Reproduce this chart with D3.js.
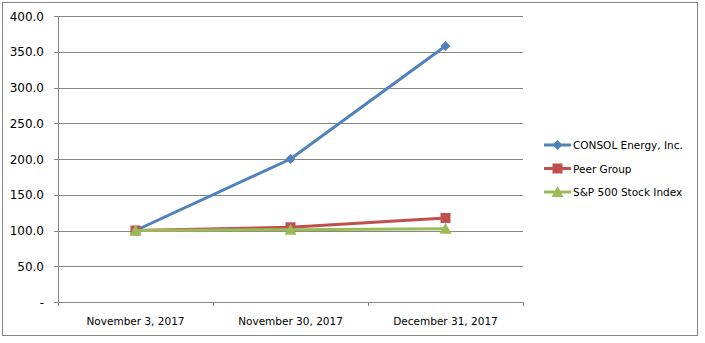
<!DOCTYPE html>
<html>
<head>
<meta charset="utf-8">
<script src="https://cdn.jsdelivr.net/npm/d3@7"></script>
<style>
  body { margin: 0; background: #fff; }
  text { font-family: "DejaVu Sans", Verdana, sans-serif; fill: #000; }
</style>
</head>
<body>
<svg id="chart" width="705" height="343"></svg>
<script>
// values
const dates = ["November 3, 2017", "November 30, 2017", "December 31, 2017"];
const consol = [100, 200, 358];
const peer = [100, 104.5, 117.5];
const sp500 = [100, 101.2, 102.3];
const yTicks = [0, 50, 100, 150, 200, 250, 300, 350, 400];

const series = [
  { name: "CONSOL Energy, Inc.", values: consol, color: "#4F81BD", shape: "diamond" },
  { name: "Peer Group", values: peer, color: "#C0504D", shape: "square" },
  { name: "S&P 500 Stock Index", values: sp500, color: "#9BBB59", shape: "triangle" }
];

const svg = d3.select("#chart");

// outer frame
svg.append("rect")
  .attr("x", 2.5).attr("y", 2.5)
  .attr("width", 695).attr("height", 333)
  .attr("fill", "none").attr("stroke", "#868686");

const plotLeft = 58, plotRight = 523, plotTop = 16, plotBottom = 302;

const x = d3.scaleBand().domain(dates).range([plotLeft, plotRight]);
const y = d3.scaleLinear().domain([0, 400]).range([plotBottom, plotTop]);

// grid
svg.append("g").selectAll("line")
  .data(yTicks)
  .enter().append("line")
  .attr("x1", plotLeft - 4).attr("x2", plotRight)
  .attr("y1", d => Math.round(y(d)) + 0.5)
  .attr("y2", d => Math.round(y(d)) + 0.5)
  .attr("stroke", "#868686");

// y axis line + labels
svg.append("line")
  .attr("x1", plotLeft + 0.5).attr("x2", plotLeft + 0.5)
  .attr("y1", plotTop).attr("y2", plotBottom + 4)
  .attr("stroke", "#868686");

svg.append("g").selectAll("text")
  .data(yTicks)
  .enter().append("text")
  .attr("x", plotLeft - 14)
  .attr("y", d => y(d) + 4.5)
  .attr("text-anchor", "end")
  .style("font-size", "12px")
  .text(d => d === 0 ? "-" : d3.format(".1f")(d));

// x axis ticks (between categories)
const xTickPos = [plotLeft, ...dates.map(d => x(d) + x.bandwidth())];
svg.append("g").selectAll("line")
  .data(xTickPos)
  .enter().append("line")
  .attr("x1", d => Math.round(d) + 0.5).attr("x2", d => Math.round(d) + 0.5)
  .attr("y1", plotBottom).attr("y2", plotBottom + 4)
  .attr("stroke", "#868686");

svg.append("g").selectAll("text")
  .data(dates)
  .enter().append("text")
  .attr("x", d => x(d) + x.bandwidth() / 2)
  .attr("y", 325)
  .attr("text-anchor", "middle")
  .style("font-size", "10.5px")
  .text(d => d);

function marker(g, shape, color, cx, cy) {
  if (shape === "diamond") {
    g.append("path")
      .attr("d", `M${cx},${cy - 5}L${cx + 5},${cy}L${cx},${cy + 5}L${cx - 5},${cy}Z`)
      .attr("fill", color);
  } else if (shape === "square") {
    g.append("rect")
      .attr("x", cx - 5).attr("y", cy - 5)
      .attr("width", 10).attr("height", 10)
      .attr("fill", color);
  } else {
    g.append("path")
      .attr("d", `M${cx},${cy - 6}L${cx + 6},${cy + 5}L${cx - 6},${cy + 5}Z`)
      .attr("fill", color);
  }
}

const line = d3.line()
  .x((d, i) => x(dates[i]) + x.bandwidth() / 2)
  .y(d => y(d));

series.forEach(s => {
  const g = svg.append("g");
  g.append("path")
    .datum(s.values)
    .attr("d", line)
    .attr("fill", "none")
    .attr("stroke", s.color)
    .attr("stroke-width", 3);
  s.values.forEach((v, i) => {
    marker(g, s.shape, s.color, x(dates[i]) + x.bandwidth() / 2, y(v));
  });
});

// legend
const legend = svg.append("g");
series.forEach((s, i) => {
  const ly = 145 + i * 23.5;
  legend.append("line")
    .attr("x1", 544).attr("x2", 571)
    .attr("y1", ly).attr("y2", ly)
    .attr("stroke", s.color).attr("stroke-width", 3);
  marker(legend, s.shape, s.color, 557.5, ly);
  legend.append("text")
    .attr("x", 573)
    .attr("y", ly + 4)
    .style("font-size", "10.5px")
    .text(s.name);
});
</script>
</body>
</html>
